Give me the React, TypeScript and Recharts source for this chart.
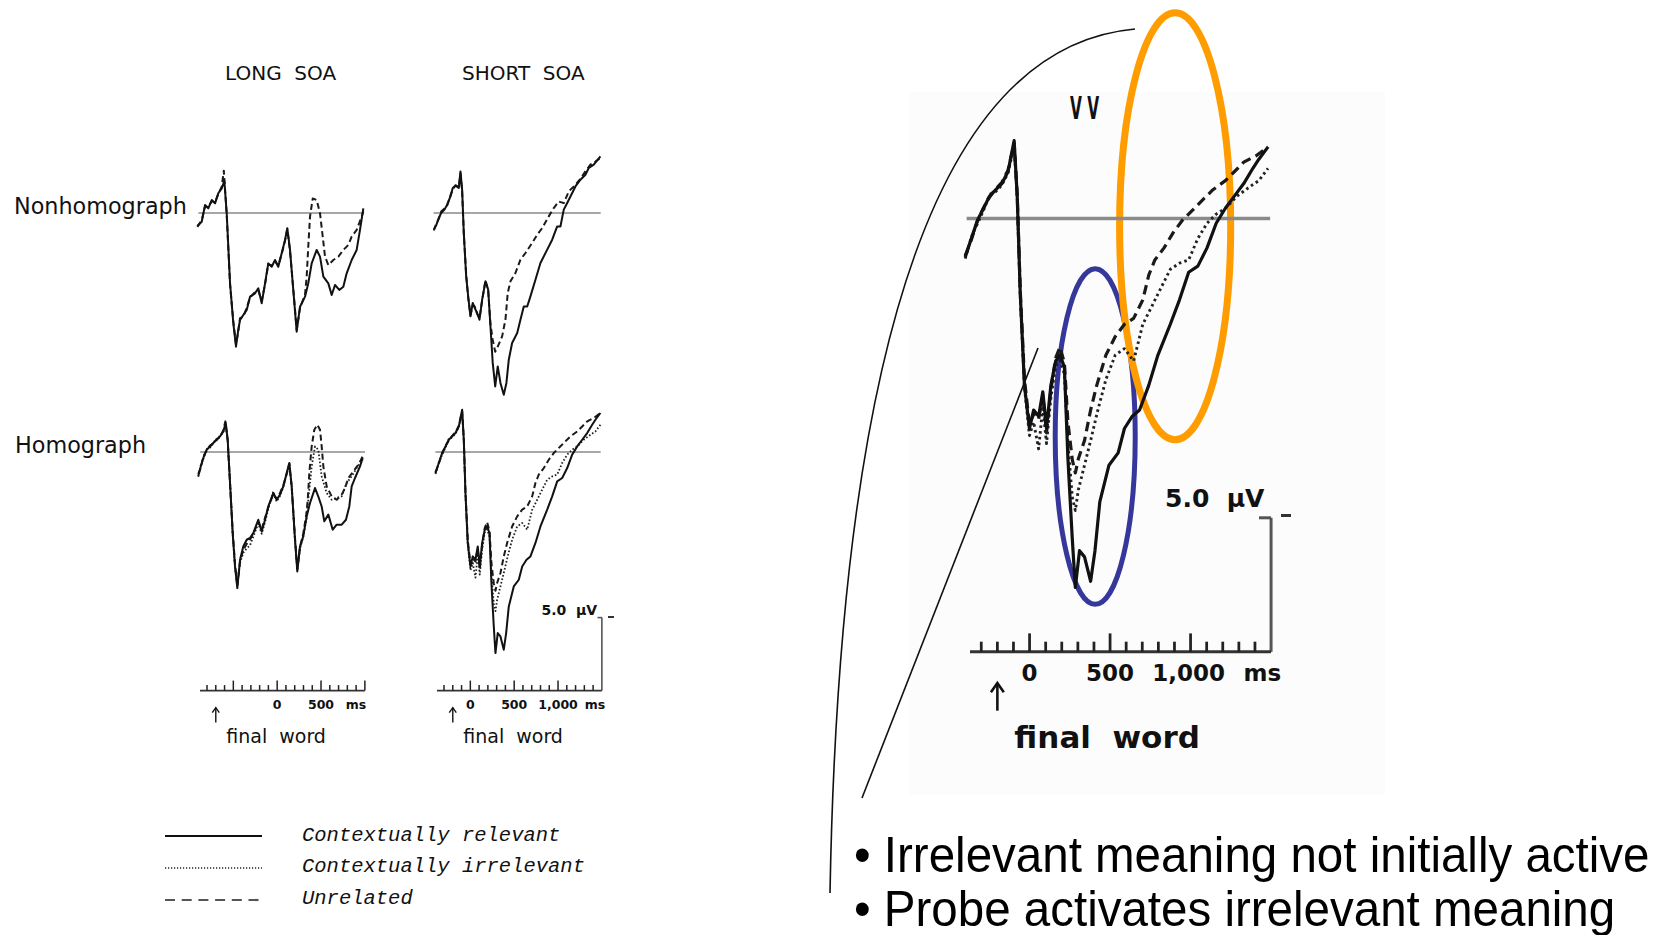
import React from "react";
import {
  LineChart,
  Line,
  XAxis,
  YAxis,
  ReferenceLine,
  ReferenceArea,
} from "recharts";

type Pt = [number, number];

// ERPs at the probe: ms from probe onset, µV (negative plotted up)
const longNonhomRelevant: Pt[] = [
  [-912, 0.89], [-862, 0.6], [-824, -0.55], [-787, -0.32], [-748, -0.89], [-710, -0.66],
  [-673, -1.35], [-634, -1.69], [-604, -2.2], [-577, 0.02], [-539, 4.8], [-502, 7.53],
  [-471, 9.16], [-445, 8.01], [-425, 7.33], [-388, 6.99], [-349, 6.64], [-311, 5.73],
  [-254, 5.5], [-217, 5.16], [-178, 6.18], [-140, 4.82], [-103, 3.45], [-64, 3.68],
  [-26, 3.22], [11, 3.68], [50, 2.76], [88, 1.85], [114, 1.05], [145, 2.53], [182, 5.27],
  [221, 8.13], [259, 6.42], [316, 5.73], [353, 4.82], [392, 3.45], [449, 2.53], [487, 2.99],
  [525, 4.36], [582, 4.82], [620, 5.62], [658, 4.93], [707, 5.27], [753, 5.05], [791, 4.13],
  [848, 3.22], [905, 2.53], [943, 1.16], [981, -0.32],
];
const longNonhomUnrelated: Pt[] = [
  [-912, 0.95], [-862, 0.5], [-824, -0.45], [-787, -0.4], [-748, -0.8], [-710, -0.75],
  [-673, -1.3], [-634, -1.8], [-610, -2.9], [-577, 0.1], [-539, 4.9], [-502, 7.4],
  [-471, 9.0], [-445, 8.1], [-425, 7.2], [-388, 7.1], [-349, 6.5], [-311, 5.8], [-254, 5.4],
  [-217, 5.3], [-178, 6.0], [-140, 4.9], [-103, 3.5], [-64, 3.6], [-26, 3.3], [11, 3.6],
  [50, 2.8], [88, 1.9], [114, 1.1], [145, 2.6], [182, 5.2], [221, 8.0], [259, 6.5],
  [316, 5.6], [335, 4.36], [353, 2.31], [373, 0.25], [404, -1.0], [449, -0.89], [487, 0.02],
  [518, 1.62], [544, 2.99], [582, 3.56], [639, 3.22], [696, 2.99], [753, 2.53], [810, 2.19],
  [848, 1.62], [905, 1.16], [962, 0.25], [981, -0.1],
];

const shortNonhomRelevant: Pt[] = [
  [-418, 1.14], [-388, 0.8], [-361, 0.34], [-334, 0], [-296, -0.23], [-266, -0.57],
  [-228, -1.14], [-202, -1.71], [-171, -1.87], [-133, -1.71], [-114, -2.85], [-95, -1.6],
  [-76, 1.37], [-49, 4.34], [-26, 5.71], [0, 7.08], [26, 6.16], [49, 6.51], [76, 6.85],
  [103, 7.31], [133, 5.94], [171, 4.68], [202, 5.25], [228, 7.77], [254, 10.27], [282, 11.88],
  [311, 10.51], [342, 11.64], [380, 12.45], [410, 11.64], [437, 10.05], [475, 8.9],
  [533, 8.22], [570, 7.31], [608, 6.4], [647, 6.4], [684, 5.71], [741, 4.57], [798, 3.42],
  [875, 2.51], [932, 1.83], [989, 0.92], [1026, 0.92], [1064, -0.23], [1103, -0.68],
  [1160, -1.37], [1197, -1.82], [1254, -2.28], [1311, -2.62], [1349, -3.08], [1406, -3.31],
  [1482, -3.88],
];
const shortNonhomUnrelated: Pt[] = [
  [-418, 1.2], [-388, 0.7], [-361, 0.4], [-334, -0.1], [-296, -0.3], [-266, -0.5],
  [-228, -1.2], [-202, -1.6], [-171, -1.9], [-133, -1.8], [-114, -2.7], [-95, -1.5],
  [-76, 1.4], [-49, 4.2], [-26, 5.8], [0, 7.0], [26, 6.3], [49, 6.4], [76, 6.9], [103, 7.2],
  [133, 6.0], [171, 4.6], [202, 5.3], [228, 7.6], [254, 8.7], [282, 9.5], [304, 9.25],
  [361, 8.45], [399, 7.31], [425, 5.48], [456, 4.68], [513, 4.11], [570, 3.2], [627, 2.74],
  [704, 2.05], [761, 1.49], [818, 1.03], [893, 0.23], [950, -0.34], [1007, -0.79],
  [1064, -0.68], [1121, -1.48], [1178, -1.82], [1246, -2.28], [1311, -2.85], [1368, -3.31],
  [1425, -3.53], [1482, -3.77],
];

const longHomRelevant: Pt[] = [
  [-901, 1.62], [-873, 0.99], [-844, 0.41], [-805, -0.16], [-767, -0.38], [-730, -0.62],
  [-691, -0.84], [-653, -1.07], [-616, -1.41], [-588, -1.99], [-566, -0.84], [-539, 2.12],
  [-509, 5.55], [-482, 7.84], [-456, 9.32], [-425, 7.38], [-388, 6.47], [-349, 6.01],
  [-311, 5.89], [-274, 5.55], [-217, 4.64], [-178, 5.44], [-140, 4.64], [-103, 3.73],
  [-46, 2.81], [-7, 3.27], [31, 2.92], [68, 2.36], [107, 1.44], [137, 0.75], [164, 2.36],
  [202, 6.01], [228, 8.18], [259, 6.47], [296, 5.78], [335, 4.41], [373, 3.49], [430, 2.47],
  [467, 3.04], [506, 3.73], [536, 4.75], [582, 4.29], [632, 5.32], [677, 4.98], [734, 4.98],
  [783, 4.64], [821, 3.73], [848, 2.36], [886, 1.78], [943, 0.99], [974, 0.41],
];
const longHomIrrelevant: Pt[] = [
  [-901, 1.7], [-873, 0.9], [-844, 0.5], [-805, -0.2], [-767, -0.3], [-730, -0.7],
  [-691, -0.8], [-653, -1.15], [-616, -1.35], [-590, -1.9], [-566, -0.9], [-539, 2.0],
  [-509, 5.6], [-482, 7.9], [-456, 9.1], [-425, 7.6], [-388, 6.9], [-349, 6.6], [-311, 6.4],
  [-274, 5.8], [-217, 4.9], [-178, 5.6], [-140, 4.8], [-103, 3.9], [-46, 2.7], [-7, 3.4],
  [31, 3.0], [68, 2.4], [107, 1.5], [137, 0.9], [164, 2.3], [202, 6.1], [228, 8.1],
  [259, 6.6], [296, 5.8], [335, 4.5], [353, 3.27], [392, 0.99], [430, -0.38], [467, -0.16],
  [506, 1.67], [563, 2.81], [620, 3.27], [677, 3.15], [734, 3.04], [791, 2.12], [848, 1.67],
  [905, 1.1], [974, 0.53],
];
const longHomUnrelated: Pt[] = [
  [-901, 1.5], [-873, 1.1], [-844, 0.3], [-805, -0.1], [-767, -0.45], [-730, -0.55],
  [-691, -0.9], [-653, -1.0], [-616, -1.5], [-592, -2.1], [-566, -0.8], [-539, 2.2],
  [-509, 5.4], [-482, 7.7], [-456, 9.2], [-425, 7.5], [-388, 6.7], [-349, 6.3], [-311, 6.0],
  [-274, 5.6], [-217, 4.8], [-178, 5.3], [-140, 4.5], [-103, 3.8], [-46, 2.9], [-7, 3.2],
  [31, 2.8], [68, 2.3], [107, 1.5], [137, 0.8], [164, 2.4], [202, 5.9], [228, 8.0],
  [259, 6.5], [296, 5.6], [330, 4.3], [347, 3.27], [365, 1.44], [392, -0.38], [422, -1.53],
  [456, -1.87], [487, -1.53], [506, -0.38], [525, 0.99], [563, 2.36], [620, 3.04],
  [677, 3.27], [734, 2.92], [772, 2.47], [810, 1.78], [867, 1.33], [924, 0.87], [974, 0.3],
];

const shortHomRelevant: Pt[] = [
  [-399, 1.44], [-361, 0.75], [-323, 0.07], [-285, -0.38], [-247, -0.84], [-209, -1.07],
  [-171, -1.3], [-133, -1.75], [-95, -2.9], [-76, -0.84], [-57, 2.81], [-31, 6.23],
  [0, 7.84], [26, 7.15], [57, 7.38], [83, 6.47], [106, 7.84], [133, 6.23], [163, 5.32],
  [190, 5.1], [217, 5.55], [239, 8.97], [266, 11.95], [285, 13.77], [311, 12.4], [342, 12.63],
  [380, 13.54], [407, 12.4], [437, 10.58], [494, 9.21], [551, 8.75], [590, 7.84], [639, 7.38],
  [684, 7.15], [741, 6.23], [798, 5.1], [875, 3.95], [932, 3.04], [989, 2.01], [1046, 1.78],
  [1103, 1.1], [1160, 0.18], [1217, -0.38], [1274, -0.84], [1331, -1.3], [1388, -1.87],
  [1425, -2.21], [1482, -2.67],
];
const shortHomIrrelevant: Pt[] = [
  [-399, 1.5], [-361, 0.7], [-323, 0.2], [-285, -0.3], [-247, -0.9], [-209, -1.0],
  [-171, -1.25], [-133, -1.7], [-95, -2.7], [-76, -0.8], [-57, 2.9], [-31, 6.3], [0, 8.1],
  [26, 7.6], [57, 8.6], [83, 7.0], [106, 8.4], [133, 6.7], [163, 5.5], [190, 5.3], [217, 5.8],
  [239, 8.4], [266, 10.4], [285, 10.9], [304, 10.12], [342, 9.21], [380, 8.29], [425, 7.15],
  [475, 6.01], [533, 5.1], [590, 4.86], [647, 5.32], [704, 3.95], [761, 3.27], [818, 2.58],
  [875, 1.9], [932, 1.67], [989, 1.55], [1046, 0.75], [1103, 0.18], [1160, -0.16],
  [1217, -0.38], [1292, -0.84], [1368, -1.18], [1425, -1.41], [1482, -1.87],
];
const shortHomUnrelated: Pt[] = [
  [-399, 1.4], [-361, 0.8], [-323, 0.1], [-285, -0.4], [-247, -0.8], [-209, -1.1],
  [-171, -1.35], [-133, -1.8], [-95, -2.8], [-76, -0.9], [-57, 2.7], [-31, 6.0], [0, 7.7],
  [26, 7.3], [57, 7.5], [83, 6.6], [106, 8.0], [133, 6.4], [163, 5.2], [190, 4.8], [217, 5.4],
  [239, 7.6], [266, 9.0], [285, 9.5], [304, 8.97], [342, 8.29], [380, 7.15], [418, 6.23],
  [475, 5.1], [533, 4.41], [590, 3.95], [647, 3.73], [704, 3.04], [741, 2.12], [779, 1.55],
  [836, 1.1], [893, 0.53], [950, 0.07], [1007, -0.27], [1064, -0.62], [1140, -1.07],
  [1217, -1.41], [1274, -1.75], [1331, -2.1], [1406, -2.33], [1482, -2.67],
];

// time scales
const longTicks = [-800, -700, -600, -500, -400, -300, -200, -100, 0, 100, 200, 300, 400, 500, 600, 700, 800, 900, 1000];
const shortTicks = [-300, -200, -100, 0, 100, 200, 300, 400, 500, 600, 700, 800, 900, 1000, 1100, 1200, 1300, 1400];
const longMajorTicks = [-500, 0, 500, 1000];
const shortMajorTicks = [0, 500, 1000];
const longTickLabels = [
  { at: 0, text: "0" },
  { at: 500, text: "500" },
  { at: 900, text: "ms" },
];
const shortTickLabels = [
  { at: 0, text: "0" },
  { at: 500, text: "500" },
  { at: 1000, text: "1,000" },
  { at: 1400, text: "ms", dx: 2 },
];
const zoomTickLabels = [
  { at: 0, text: "0" },
  { at: 500, text: "500" },
  { at: 1000, text: "1,000", dx: -1 },
  { at: 1400, text: "ms", dx: 4 },
];

const LONG_FINAL_WORD = -700;
const SHORT_FINAL_WORD = -200;
const SCALE_UV = 5;

// highlighted windows on the enlarged plot: [t1, t2, uV1, uV2]
const n400Window = [160, 657, 1.88, 14.4];
const lateWindow = [560, 1250, -7.67, 8.26];

const legendItems = [
  { name: "Contextually relevant", kind: "relevant" },
  { name: "Contextually irrelevant", kind: "irrelevant" },
  { name: "Unrelated", kind: "unrelated" },
];

type Kind = "relevant" | "irrelevant" | "unrelated";
type Frame = { zeroX: number; pxPerMs: number; zeroY: number; pxPerUv: number };

const LONG_COL = { zeroX: 277.3, pxPerMs: 0.0877 };
const SHORT_COL = { zeroX: 470, pxPerMs: 0.0877 };
const SMALL_UV = 14.6;
const NONHOM_Y = 213;
const HOM_Y = 452.3;
const SMALL_AXIS_Y = 690.7;
const ZOOM: Frame = { zeroX: 1029.3, pxPerMs: 0.161, zeroY: 218, pxPerUv: 26.8 };
const ZOOM_AXIS_Y = 651.7;

const rows = (pts: Pt[]) => pts.map(([t, v]) => ({ t, v }));

function lineStyle(kind: Kind, big: boolean) {
  const k = big ? 1.6 : 1;
  if (kind === "relevant") return { stroke: "#111", strokeWidth: 2 * k, strokeDasharray: undefined };
  if (kind === "irrelevant") return { stroke: "#222", strokeWidth: 1.8 * k, strokeDasharray: `${1.6 * k} ${2 * k}` };
  return { stroke: "#1a1a1a", strokeWidth: 2 * k, strokeDasharray: `${6 * k} ${3.5 * k}` };
}

type Series = { kind: Kind; points: Pt[] };

function Waveforms(props: {
  frame: Frame;
  xDomain: [number, number];
  yDomain: [number, number];
  baseline: [number, number];
  series: Series[];
  big?: boolean;
  children?: React.ReactNode;
}) {
  const { frame, xDomain, yDomain, baseline, series, big = false } = props;
  const left = frame.zeroX + xDomain[0] * frame.pxPerMs;
  const top = frame.zeroY + yDomain[0] * frame.pxPerUv;
  const width = (xDomain[1] - xDomain[0]) * frame.pxPerMs;
  const height = (yDomain[1] - yDomain[0]) * frame.pxPerUv;
  return (
    <div style={{ position: "absolute", left, top }}>
      <LineChart width={width} height={height} margin={{ top: 0, right: 0, bottom: 0, left: 0 }}>
        <XAxis type="number" dataKey="t" domain={xDomain} hide allowDataOverflow />
        <YAxis type="number" dataKey="v" domain={yDomain} hide reversed allowDataOverflow />
        <ReferenceLine
          segment={[{ x: baseline[0], y: 0 }, { x: baseline[1], y: 0 }]}
          stroke="#8a8a8a"
          strokeWidth={big ? 3.5 : 1.6}
        />
        {series.map((s, i) => (
          <Line
            key={i}
            data={rows(s.points)}
            dataKey="v"
            type="linear"
            dot={false}
            activeDot={false}
            strokeLinejoin="round"
            isAnimationActive={false}
            {...lineStyle(s.kind, big)}
          />
        ))}
        {props.children}
      </LineChart>
    </div>
  );
}

type TickCfg = {
  major: number[];
  labels: { at: number; text: string; dx?: number }[];
  finalWordAt: number;
  big: boolean;
};

function makeTick(cfg: TickCfg) {
  const s = cfg.big ? 1.84 : 1;
  return (p: any) => {
    const { x, y, payload } = p;
    const t = payload.value;
    const len = cfg.major.includes(t) ? 10 * s : 5.5 * s;
    const label = cfg.labels.find((l) => l.at === t);
    return (
      <g>
        <line x1={x} y1={y} x2={x} y2={y - len} stroke="#222" strokeWidth={1.5 * s} />
        {label && (
          <text
            x={x + (label.dx ?? 0) * s}
            y={y + (cfg.big ? 29 : 18.5)}
            textAnchor="middle"
            fontFamily="'DejaVu Sans', sans-serif"
            fontWeight="bold"
            fontSize={cfg.big ? 23 : 12.5}
            fill="#111"
          >
            {label.text}
          </text>
        )}
        {t === cfg.finalWordAt && (
          <g stroke="#111" strokeWidth={1.4 * s} fill="none">
            <line x1={x} y1={y + 17 * s} x2={x} y2={y + 32 * s} />
            <polyline points={`${x - 3.5 * s},${y + 22 * s} ${x},${y + 17 * s} ${x + 3.5 * s},${y + 22 * s}`} />
            <text
              x={x + (cfg.big ? 17 : 10.5)}
              y={y + (cfg.big ? 96 : 52)}
              fontFamily="'DejaVu Sans', sans-serif"
              fontSize={cfg.big ? 31 : 19}
              fontWeight={cfg.big ? "bold" : "normal"}
              fill="#111"
              stroke="none"
              style={{ whiteSpace: "pre" }}
            >
              {"final  word"}
            </text>
          </g>
        )}
      </g>
    );
  };
}

function TimeAxis(props: {
  col: { zeroX: number; pxPerMs: number };
  pxPerUv: number;
  axisY: number;
  domain: [number, number];
  ticks: number[];
  cfg: TickCfg;
  scaleBar?: boolean;
}) {
  const { col, pxPerUv, axisY, domain, ticks, cfg, scaleBar } = props;
  const big = cfg.big;
  const plotH = 6 * pxPerUv; // -1 .. 5 µV above the time line
  const axisH = big ? 110 : 62;
  const left = col.zeroX + domain[0] * col.pxPerMs;
  const width = (domain[1] - domain[0]) * col.pxPerMs;
  const spare = big ? 60 : 30; // room for the unit label past the last tick
  const cap = big ? 75 : 50;
  return (
    <div style={{ position: "absolute", left, top: axisY - plotH }}>
      <LineChart
        width={width + spare}
        height={plotH + axisH}
        margin={{ top: 0, right: spare, bottom: 0, left: 0 }}
      >
        <XAxis
          type="number"
          dataKey="t"
          domain={domain}
          ticks={ticks}
          interval={0}
          height={axisH}
          tickSize={0}
          tickMargin={0}
          tickLine={false}
          axisLine={{ stroke: "#333", strokeWidth: big ? 3 : 1.8 }}
          tick={makeTick(cfg)}
          allowDataOverflow
        />
        <YAxis type="number" domain={[-1, 5]} hide reversed allowDataOverflow />
        {scaleBar && (
          <ReferenceLine
            segment={[{ x: domain[1], y: 0 }, { x: domain[1], y: SCALE_UV }]}
            stroke="#555"
            strokeWidth={big ? 3 : 1.6}
          />
        )}
        {scaleBar && (
          <ReferenceLine
            segment={[{ x: domain[1] - cap, y: 0 }, { x: domain[1], y: 0 }]}
            stroke="#555"
            strokeWidth={big ? 3 : 1.6}
          />
        )}
      </LineChart>
    </div>
  );
}

const ellipse = (color: string, w: number) => (p: any) => (
  <ellipse
    cx={p.x + p.width / 2}
    cy={p.y + p.height / 2}
    rx={p.width / 2}
    ry={p.height / 2}
    fill="none"
    stroke={color}
    strokeWidth={w}
  />
);

const text = (extra: React.CSSProperties): React.CSSProperties => ({
  position: "absolute",
  lineHeight: 1,
  whiteSpace: "pre",
  ...extra,
});

export default function App() {
  const small = SMALL_UV;
  return (
    <div
      style={{
        position: "absolute",
        left: 0,
        top: 0,
        width: 1663,
        height: 935,
        background: "#fff",
        overflow: "hidden",
        fontFamily: "'DejaVu Sans', sans-serif",
        color: "#111",
      }}
    >
      {/* enlarged-figure backdrop */}
      <div style={{ position: "absolute", left: 910, top: 92, width: 475, height: 703, background: "#fcfcfc" }} />

      <div style={text({ left: 225, top: 63.4, fontSize: 20 })}>{"LONG  SOA"}</div>
      <div style={text({ left: 462, top: 63.4, fontSize: 20 })}>{"SHORT  SOA"}</div>
      <div style={text({ left: 14, top: 195, fontSize: 22.3 })}>Nonhomograph</div>
      <div style={text({ left: 15, top: 433.5, fontSize: 22.3 })}>Homograph</div>

      <Waveforms
        frame={{ ...LONG_COL, zeroY: NONHOM_Y, pxPerUv: small }}
        xDomain={[-950, 1000]}
        yDomain={[-5, 15]}
        baseline={[-900, 980]}
        series={[
          { kind: "unrelated", points: longNonhomUnrelated },
          { kind: "relevant", points: longNonhomRelevant },
        ]}
      />
      <Waveforms
        frame={{ ...SHORT_COL, zeroY: NONHOM_Y, pxPerUv: small }}
        xDomain={[-450, 1500]}
        yDomain={[-5, 15]}
        baseline={[-420, 1485]}
        series={[
          { kind: "unrelated", points: shortNonhomUnrelated },
          { kind: "relevant", points: shortNonhomRelevant },
        ]}
      />
      <Waveforms
        frame={{ ...LONG_COL, zeroY: HOM_Y, pxPerUv: small }}
        xDomain={[-950, 1000]}
        yDomain={[-5, 15]}
        baseline={[-880, 1000]}
        series={[
          { kind: "unrelated", points: longHomUnrelated },
          { kind: "irrelevant", points: longHomIrrelevant },
          { kind: "relevant", points: longHomRelevant },
        ]}
      />
      <Waveforms
        frame={{ ...SHORT_COL, zeroY: HOM_Y, pxPerUv: small }}
        xDomain={[-450, 1500]}
        yDomain={[-5, 15]}
        baseline={[-400, 1485]}
        series={[
          { kind: "unrelated", points: shortHomUnrelated },
          { kind: "irrelevant", points: shortHomIrrelevant },
          { kind: "relevant", points: shortHomRelevant },
        ]}
      />

      <TimeAxis
        col={LONG_COL}
        pxPerUv={small}
        axisY={SMALL_AXIS_Y}
        domain={[-880, 1000]}
        ticks={longTicks}
        cfg={{ major: longMajorTicks, labels: longTickLabels, finalWordAt: LONG_FINAL_WORD, big: false }}
      />
      <TimeAxis
        col={SHORT_COL}
        pxPerUv={small}
        axisY={SMALL_AXIS_Y}
        domain={[-380, 1500]}
        ticks={shortTicks}
        cfg={{ major: shortMajorTicks, labels: shortTickLabels, finalWordAt: SHORT_FINAL_WORD, big: false }}
        scaleBar
      />
      <div style={text({ left: 541.5, top: 603.3, fontSize: 14, fontWeight: "bold" })}>{"5.0  µV"}</div>
      <div style={{ position: "absolute", left: 608, top: 616, width: 6, height: 1.8, background: "#333" }} />

      {/* enlarged short-SOA homograph plot */}
      <div style={text({ left: 1070, top: 92, fontSize: 32, fontWeight: "bold", transform: "scaleX(0.48)", transformOrigin: "left top" })}>
        {"V V"}
      </div>
      <Waveforms
        frame={ZOOM}
        xDomain={[-450, 1500]}
        yDomain={[-8, 15]}
        baseline={[-390, 1495]}
        big
        series={[
          { kind: "unrelated", points: shortHomUnrelated },
          { kind: "irrelevant", points: shortHomIrrelevant },
          { kind: "relevant", points: shortHomRelevant },
        ]}
      >
        <ReferenceArea
          x1={n400Window[0]}
          x2={n400Window[1]}
          y1={n400Window[2]}
          y2={n400Window[3]}
          shape={ellipse("#35379a", 5)}
        />
        <ReferenceArea
          x1={lateWindow[0]}
          x2={lateWindow[1]}
          y1={lateWindow[2]}
          y2={lateWindow[3]}
          shape={ellipse("#ff9c00", 7)}
        />
      </Waveforms>
      <TimeAxis
        col={ZOOM}
        pxPerUv={ZOOM.pxPerUv}
        axisY={ZOOM_AXIS_Y}
        domain={[-370, 1500]}
        ticks={shortTicks}
        cfg={{ major: shortMajorTicks, labels: zoomTickLabels, finalWordAt: SHORT_FINAL_WORD, big: true }}
        scaleBar
      />
      <div style={text({ left: 1165, top: 486, fontSize: 25, fontWeight: "bold" })}>{"5.0  µV"}</div>
      <div style={{ position: "absolute", left: 1281, top: 513.5, width: 10, height: 3, background: "#333" }} />

      {/* legend */}
      <svg style={{ position: "absolute", left: 0, top: 0 }} width={1663} height={935}>
        {legendItems.map((it, i) => {
          const st = lineStyle(it.kind as Kind, false);
          const y = 836 + i * 32;
          return (
            <line
              key={it.name}
              x1={165}
              x2={262}
              y1={y}
              y2={y}
              stroke={it.kind === "unrelated" ? "#555" : st.stroke}
              strokeWidth={it.kind === "irrelevant" ? 1.6 : 2.2}
              strokeDasharray={it.kind === "unrelated" ? "10 6.7" : it.kind === "irrelevant" ? "1.2 1.8" : undefined}
            />
          );
        })}
        {/* callout from the small panel to the enlarged one */}
        <path d="M1135,29 Q845,55 830,893" fill="none" stroke="#111" strokeWidth={1.6} />
        <line x1={1038} y1={348} x2={862} y2={798} stroke="#111" strokeWidth={1.6} />
      </svg>
      {legendItems.map((it, i) => (
        <div
          key={it.name}
          style={text({
            left: 302,
            top: 836 + i * 31.5 - 10.5,
            fontSize: 20.5,
            fontFamily: "'Liberation Mono', 'DejaVu Sans Mono', monospace",
            fontStyle: "italic",
          })}
        >
          {it.name}
        </div>
      ))}

      <div
        style={text({
          left: 854,
          top: 830,
          fontSize: 50,
          fontFamily: "'Liberation Sans', Arial, sans-serif",
          color: "#000",
          transform: "scaleX(0.95)",
          transformOrigin: "left top",
        })}
      >
        {"• Irrelevant meaning not initially active"}
      </div>
      <div
        style={text({
          left: 854,
          top: 884,
          fontSize: 50,
          fontFamily: "'Liberation Sans', Arial, sans-serif",
          color: "#000",
          transform: "scaleX(0.95)",
          transformOrigin: "left top",
        })}
      >
        {"• Probe activates irrelevant meaning"}
      </div>
    </div>
  );
}
